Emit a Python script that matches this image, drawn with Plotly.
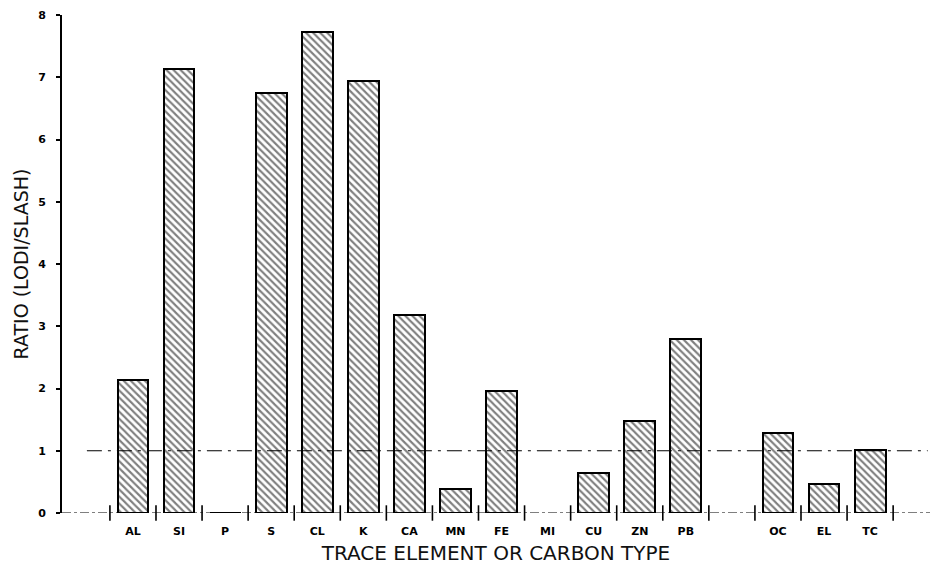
import plotly.graph_objects as go

# Trace elements / carbon types, in plotting order ("" marks an empty slot)
categories = ["AL", "SI", "P", "S", "CL", "K", "CA", "MN", "FE", "MI",
              "CU", "ZN", "PB", "", "OC", "EL", "TC"]
# Ratio of Lodi to Slash concentrations (None = not reported)
ratios = [2.13, 7.13, 0.0, 6.75, 7.72, 6.94, 3.18, 0.39, 1.96, None,
          0.64, 1.48, 2.80, None, 1.28, 0.47, 1.02]
reference_ratio = 1.0
y_ticks = [0, 1, 2, 3, 4, 5, 6, 7, 8]

positions = [i + 1 for i in range(len(categories))]
bar_x = [p for p, v in zip(positions, ratios) if v is not None]
bar_y = [v for v in ratios if v is not None]
boundaries = [p - 0.5 for p in positions] + [positions[-1] + 0.5]
x_range = [-0.54, 18.30]

fig = go.Figure()

fig.add_trace(go.Bar(
    x=bar_x, y=bar_y, width=0.67,
    marker=dict(
        color="white",
        line=dict(color="black", width=2),
        pattern=dict(shape="\\", size=5, solidity=0.42,
                     fgcolor="black", bgcolor="white"),
    ),
    showlegend=False, hoverinfo="skip",
))

# baseline and reference line at ratio = 1
fig.add_shape(type="line", xref="x", yref="y", layer="below",
              x0=x_range[0], x1=x_range[1], y0=0, y1=0,
              line=dict(color="black", width=1.2, dash="dashdot"))
fig.add_shape(type="line", xref="x", yref="y",
              x0=0.0, x1=x_range[1] - 0.05,
              y0=reference_ratio, y1=reference_ratio,
              line=dict(color="black", width=1.2, dash="longdashdot"))

# cross-shaped tick marks on the category axis
fig.add_trace(go.Scatter(
    x=boundaries, y=[0] * len(boundaries), mode="markers",
    marker=dict(symbol="line-ns", size=11,
                line=dict(color="black", width=1.6)),
    cliponaxis=False, showlegend=False, hoverinfo="skip",
))

fig.update_layout(
    width=934, height=571,
    margin=dict(l=62, r=4, t=15, b=58),
    paper_bgcolor="white", plot_bgcolor="white",
    bargap=0,
    font=dict(family="DejaVu Sans", color="black"),
    xaxis=dict(
        range=x_range,
        tickmode="array", tickvals=positions, ticktext=categories,
        ticks="", ticklabelstandoff=10,
        tickfont=dict(family="DejaVu Sans", size=11, weight="bold"),
        showgrid=False, zeroline=False, showline=False,
        title=dict(text="TRACE ELEMENT OR CARBON TYPE",
                   font=dict(family="DejaVu Sans", size=20, color="#111111"),
                   standoff=8),
    ),
    yaxis=dict(
        range=[0, 8],
        tickmode="array", tickvals=y_ticks,
        ticks="outside", ticklen=4, tickwidth=1.5, tickcolor="black",
        ticklabelstandoff=8,
        tickfont=dict(family="DejaVu Sans", size=11, weight="bold"),
        showgrid=False, zeroline=False,
        showline=True, linecolor="black", linewidth=2,
        title=dict(text="RATIO (LODI/SLASH)",
                   font=dict(family="DejaVu Sans", size=19, color="#111111"),
                   standoff=4),
    ),
)

fig.write_html("out.html")
